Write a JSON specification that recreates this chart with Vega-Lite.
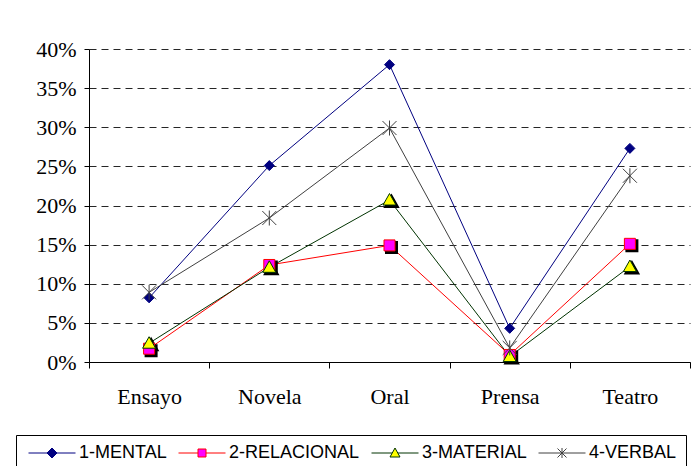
{
  "$schema": "https://vega.github.io/schema/vega-lite/v6.json",
  "width": 601,
  "height": 313,
  "autosize": "none",
  "padding": {"left": 89, "top": 49, "right": 3, "bottom": 104},
  "background": "white",
  "config": {"view": {"stroke": null}},
  "data": {
    "values": [
      {"genre": "Ensayo", "series": "1-MENTAL", "value": 0.082},
      {"genre": "Novela", "series": "1-MENTAL", "value": 0.251},
      {"genre": "Oral", "series": "1-MENTAL", "value": 0.380},
      {"genre": "Prensa", "series": "1-MENTAL", "value": 0.043},
      {"genre": "Teatro", "series": "1-MENTAL", "value": 0.273},
      {"genre": "Ensayo", "series": "2-RELACIONAL", "value": 0.017},
      {"genre": "Novela", "series": "2-RELACIONAL", "value": 0.124},
      {"genre": "Oral", "series": "2-RELACIONAL", "value": 0.149},
      {"genre": "Prensa", "series": "2-RELACIONAL", "value": 0.009},
      {"genre": "Teatro", "series": "2-RELACIONAL", "value": 0.151},
      {"genre": "Ensayo", "series": "3-MATERIAL", "value": 0.024},
      {"genre": "Novela", "series": "3-MATERIAL", "value": 0.121},
      {"genre": "Oral", "series": "3-MATERIAL", "value": 0.207},
      {"genre": "Prensa", "series": "3-MATERIAL", "value": 0.007},
      {"genre": "Teatro", "series": "3-MATERIAL", "value": 0.122},
      {"genre": "Ensayo", "series": "4-VERBAL", "value": 0.089},
      {"genre": "Novela", "series": "4-VERBAL", "value": 0.184},
      {"genre": "Oral", "series": "4-VERBAL", "value": 0.299},
      {"genre": "Prensa", "series": "4-VERBAL", "value": 0.018},
      {"genre": "Teatro", "series": "4-VERBAL", "value": 0.238}
    ]
  },
  "encoding": {
    "x": {
      "field": "genre",
      "type": "nominal",
      "sort": ["Ensayo", "Novela", "Oral", "Prensa", "Teatro"],
      "scale": {"type": "band", "paddingInner": 0, "paddingOuter": 0},
      "axis": {
        "title": null,
        "labelAngle": 0,
        "tickBand": "extent",
        "domainColor": "black",
        "tickColor": "black",
        "tickSize": 6,
        "labelFont": "Liberation Serif",
        "labelFontSize": 22,
        "labelColor": "black",
        "labelPadding": 18,
        "grid": false
      }
    },
    "y": {
      "field": "value",
      "type": "quantitative",
      "scale": {"domain": [0, 0.4], "nice": false},
      "axis": {
        "title": null,
        "values": [0, 0.05, 0.1, 0.15, 0.2, 0.25, 0.3, 0.35, 0.4],
        "format": ".0%",
        "grid": true,
        "gridColor": "black",
        "gridDash": [7, 5],
        "gridWidth": 1,
        "gridOpacity": 0.85,
        "domainColor": "black",
        "tickColor": "black",
        "tickSize": 5,
        "labelFont": "Liberation Serif",
        "labelFontSize": 22,
        "labelColor": "black",
        "labelPadding": 8
      }
    }
  },
  "layer": [
    {
      "mark": {"type": "line", "strokeWidth": 1},
      "encoding": {
        "stroke": {
          "field": "series",
          "type": "nominal",
          "scale": {"domain": ["1-MENTAL", "2-RELACIONAL", "3-MATERIAL", "4-VERBAL"], "range": ["#000080", "#FF0000", "#003300", "#404040"]},
          "legend": {
            "title": null,
            "orient": "none",
            "legendX": -73,
            "legendY": 386,
            "direction": "horizontal",
            "strokeColor": "black",
            "fillColor": "white",
            "padding": 9,
            "symbolSize": 100,
            "symbolStrokeWidth": 1,
            "symbolOffset": 18,
            "labelOffset": 18,
            "columnPadding": 8,
            "labelFont": "Liberation Sans",
            "labelFontSize": 18,
            "labelColor": "black",
            "labelLimit": 200,
            "encode": {
              "symbols": {
                "update": {
                  "shape": {"signal": "datum.value === '1-MENTAL' ? 'M-4.7,0H4.7M0,-1L1,0L0,1L-1,0Z' : datum.value === '2-RELACIONAL' ? 'M-4.7,0H-0.8M0.8,0H4.7M-0.8,-0.8H0.8V0.8H-0.8Z' : datum.value === '3-MATERIAL' ? 'M-4.7,0H-0.6M0.6,0H4.7M0,-1L1,0.8H-1Z' : 'M-4.7,0H4.7M-0.9,-0.9L0.9,0.9M-0.9,0.9L0.9,-0.9M0,-1V1'"},
                  "fill": {"signal": "datum.value === '1-MENTAL' ? '#000080' : datum.value === '2-RELACIONAL' ? '#FF00FF' : datum.value === '3-MATERIAL' ? '#FFFF00' : 'transparent'"},
                  "stroke": {"signal": "datum.value === '1-MENTAL' ? '#000080' : datum.value === '2-RELACIONAL' ? '#FF0000' : datum.value === '3-MATERIAL' ? '#003300' : '#404040'"},
                  "opacity": {"value": 1},
                  "strokeWidth": {"value": 1}
                }
              }
            }
          }
        }
      }
    },
    {
      "transform": [{"filter": "datum.series === '2-RELACIONAL'"}],
      "mark": {"type": "point", "filled": true, "shape": "M-1.1,-1.1H1.1V1.1H-1.1Z", "size": 100, "fill": "black", "stroke": "black", "opacity": 1, "xOffset": 2, "yOffset": 2}
    },
    {
      "transform": [{"filter": "datum.series === '3-MATERIAL'"}],
      "mark": {"type": "point", "filled": true, "shape": "M0,-1.3L1.3,1H-1.3Z", "size": 100, "fill": "black", "stroke": "black", "opacity": 1, "xOffset": 2, "yOffset": 2}
    },
    {
      "transform": [{"filter": "datum.series === '1-MENTAL'"}],
      "mark": {"type": "point", "filled": true, "shape": "M0,-1L1,0L0,1L-1,0Z", "size": 100, "fill": "#000080", "stroke": "#000080", "strokeWidth": 1, "opacity": 1}
    },
    {
      "transform": [{"filter": "datum.series === '2-RELACIONAL'"}],
      "mark": {"type": "point", "filled": true, "shape": "M-1.1,-1.1H1.1V1.1H-1.1Z", "size": 100, "fill": "#FF00FF", "stroke": "#FF0000", "strokeWidth": 1, "opacity": 1}
    },
    {
      "transform": [{"filter": "datum.series === '3-MATERIAL'"}],
      "mark": {"type": "point", "filled": true, "shape": "M0,-1.3L1.3,1H-1.3Z", "size": 100, "fill": "#FFFF00", "stroke": "#003300", "strokeWidth": 1, "opacity": 1}
    },
    {
      "transform": [{"filter": "datum.series === '4-VERBAL'"}],
      "mark": {"type": "point", "filled": false, "shape": "M-1.4,-1.4L1.4,1.4M-1.4,1.4L1.4,-1.4M0,-1.5V1.5", "size": 100, "stroke": "#404040", "strokeWidth": 1, "opacity": 1}
    }
  ]
}
